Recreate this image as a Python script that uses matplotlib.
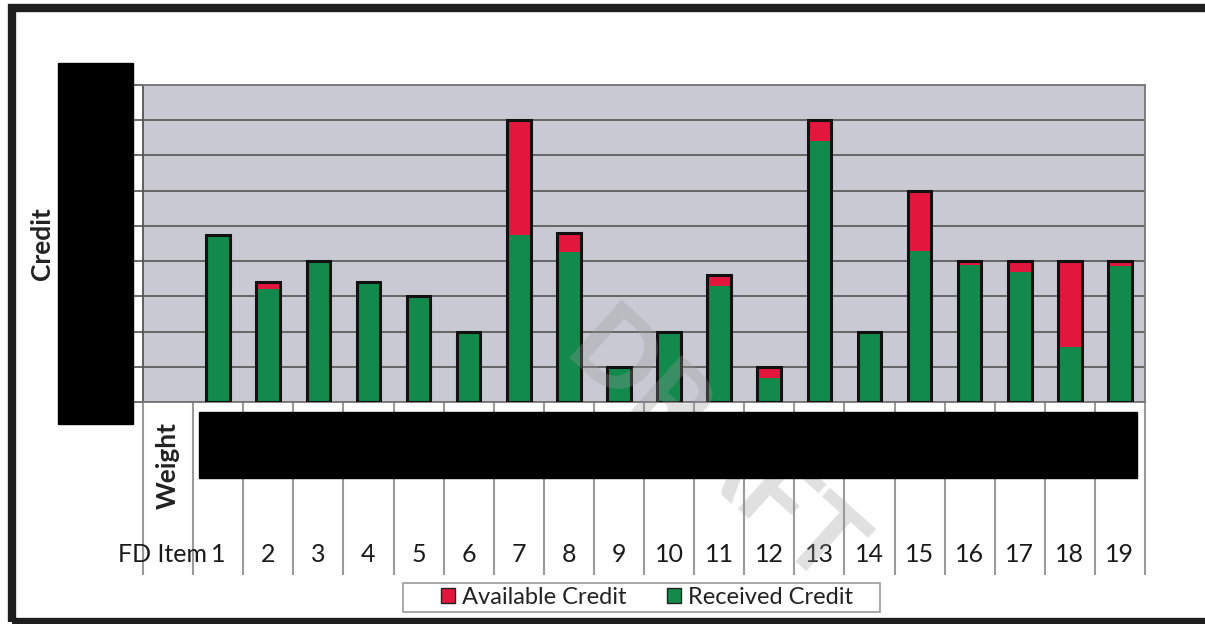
import numpy as np
import matplotlib
matplotlib.use('Agg')
import matplotlib.pyplot as plt
from matplotlib.patches import Rectangle, Patch

plt.rcParams['font.family'] = ['Lato', 'DejaVu Sans']

# values (y axis labels are redacted, so units are gridline steps)
items = [str(i) for i in range(1, 20)]
received = [4.75, 3.2, 4.0, 3.4, 3.0, 2.0, 4.75, 4.25, 1.0, 2.0,
            3.3, 0.68, 7.4, 2.0, 4.3, 3.9, 3.7, 1.55, 3.85]
available = [0.0, 0.2, 0.0, 0.0, 0.0, 0.0, 3.25, 0.55, 0.0, 0.0,
             0.3, 0.32, 0.6, 0.0, 1.7, 0.1, 0.3, 2.45, 0.15]

green = '#118a4c'
red = '#e3173e'

W, H = 1205, 624
fig = plt.figure(figsize=(W / 100, H / 100), dpi=100)

def fx(px):
    return px / W

def fy(py):
    return 1 - py / H

# plot area
ax = fig.add_axes([fx(143), fy(402), fx(1145) - fx(143), fy(85) - fy(402)])
ax.set_facecolor('#c8c9d2')
x = np.arange(1, 20)
rec = np.array(received)
av = np.array(available)
ax.bar(x, rec, width=0.47, color=green, zorder=3)
ax.bar(x, av, bottom=rec, width=0.47, color=red, zorder=3)
ax.bar(x, rec + av, width=0.47, fill=False, edgecolor='#111111', lw=2.2, zorder=4)
ax.set_xlim(-0.5, 19.5)
ax.set_ylim(0, 9)
ax.set_yticks(np.arange(0, 10))
ax.set_yticklabels([])
ax.set_xticks([])
ax.grid(axis='y', color='#5e5e5e', lw=1.3, zorder=1)
ax.tick_params(axis='y', direction='out', length=8, width=1.2, color='#555555')
for s in ax.spines.values():
    s.set_color('#777777')
    s.set_linewidth(1.3)
ax.spines['left'].set_color('#555555')

# data table below the plot
trans = ax.get_xaxis_transform()
ax.vlines(np.arange(-0.5, 20), -0.545, 0, transform=trans, colors='#9a9a9a',
          lw=1.5, clip_on=False)
ax.text(0, -0.2, 'Weight', transform=trans, rotation=90, ha='center', va='center',
        fontsize=19, fontweight='bold', color='#222222')
for xi, lab in zip(x, items):
    ax.text(xi, -0.48, lab, transform=trans, ha='center', va='center',
            fontsize=18, color='#1a1a1a')
ax.text(0.78, -0.48, 'FD Item', transform=trans, ha='right', va='center',
        fontsize=18, color='#1a1a1a')

# axis title
fig.text(fx(42), fy(244), 'Credit', rotation=90, ha='center', va='center',
         fontsize=19, fontweight='bold', color='#222222')

# legend
fig.patches.append(Rectangle((fx(403), fy(612)), fx(880) - fx(403), fy(583) - fy(612),
                             transform=fig.transFigure, facecolor='white',
                             edgecolor='#9a9a9a', lw=1.2, zorder=2))
handles = [Patch(facecolor=red, edgecolor='#222222', label='Available Credit'),
           Patch(facecolor=green, edgecolor='#222222', label='Received Credit')]
leg = fig.legend(handles=handles, loc='center', ncol=2,
                 bbox_to_anchor=(fx(647), fy(597)), fontsize=17,
                 frameon=False, handlelength=0.6, handleheight=0.6,
                 handletextpad=0.3, columnspacing=1.7, borderpad=0.1,
                 labelcolor='#222222')
leg.set_zorder(3)

# faint watermark
fig.text(fx(712), fy(452), 'DRAFT', rotation=-42, ha='center', va='center',
         fontsize=78, fontweight='bold', color='#9a9a9a', alpha=0.3, zorder=5)

# redaction boxes
fig.patches.append(Rectangle((fx(58), fy(424)), fx(133) - fx(58), fy(63) - fy(424),
                             transform=fig.transFigure, color='black', zorder=10))
fig.patches.append(Rectangle((fx(199), fy(478)), fx(1137) - fx(199), fy(412) - fy(478),
                             transform=fig.transFigure, color='black', zorder=10))

# scanned page border
fig.patches.append(Rectangle((fx(12), fy(622)), fx(1300), fy(8) - fy(622),
                             transform=fig.transFigure, fill=False,
                             edgecolor='#1e1e1e', lw=6, zorder=11))

fig.savefig('out.png', dpi=100)
